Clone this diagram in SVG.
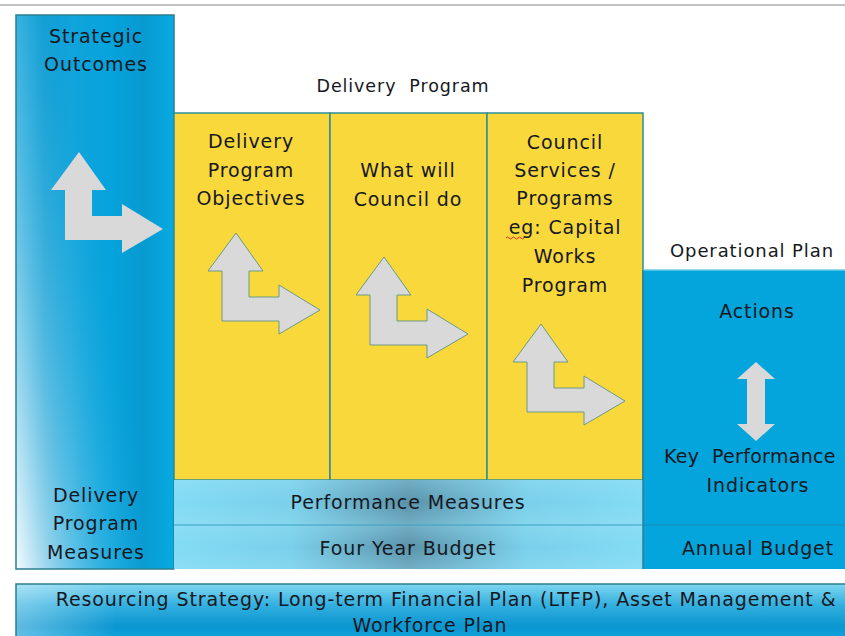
<svg xmlns="http://www.w3.org/2000/svg" width="845" height="636" viewBox="0 0 845 636">
<defs>
  <linearGradient id="leftStripes" x1="0" y1="0" x2="1" y2="0">
    <stop offset="0" stop-color="#1ea8dc"/>
    <stop offset="0.18" stop-color="#0c9bd2"/>
    <stop offset="0.35" stop-color="#10a4db"/>
    <stop offset="0.6" stop-color="#06a3dc"/>
    <stop offset="0.8" stop-color="#079ad0"/>
    <stop offset="1" stop-color="#08aae3"/>
  </linearGradient>
  <linearGradient id="leftFade" x1="0" y1="1" x2="0.7" y2="0.6">
    <stop offset="0" stop-color="#ffffff" stop-opacity="0.95"/>
    <stop offset="0.4" stop-color="#bfe6f4" stop-opacity="0.45"/>
    <stop offset="1" stop-color="#0aa2da" stop-opacity="0"/>
  </linearGradient>
  <linearGradient id="band" x1="0" y1="0" x2="1" y2="0">
    <stop offset="0" stop-color="#82dbf4"/>
    <stop offset="0.25" stop-color="#7acfea"/>
    <stop offset="0.5" stop-color="#5a92a9"/>
    <stop offset="0.75" stop-color="#7acfea"/>
    <stop offset="1" stop-color="#82dbf4"/>
  </linearGradient>
  <linearGradient id="bandV" x1="0" y1="0" x2="0" y2="1">
    <stop offset="0" stop-color="#9be3f6" stop-opacity="0.35"/>
    <stop offset="0.5" stop-color="#9be3f6" stop-opacity="0"/>
    <stop offset="1" stop-color="#9be3f6" stop-opacity="0.35"/>
  </linearGradient>
  <linearGradient id="bottomBar" x1="0" y1="0" x2="0" y2="1">
    <stop offset="0" stop-color="#7fd5f0"/>
    <stop offset="0.35" stop-color="#33b0e0"/>
    <stop offset="0.7" stop-color="#0b96d0"/>
    <stop offset="1" stop-color="#11a8e2"/>
  </linearGradient>
  <linearGradient id="bottomLeft" x1="0" y1="0" x2="1" y2="0">
    <stop offset="0" stop-color="#ffffff" stop-opacity="0.35"/>
    <stop offset="0.12" stop-color="#ffffff" stop-opacity="0"/>
    <stop offset="1" stop-color="#ffffff" stop-opacity="0"/>
  </linearGradient>
  <path id="bentArrow" d="M79,152 L106,190 L92,190 L92,216 L122,216 L122,204 L163,229 L122,253 L122,240 L65,240 L65,190 L51,190 Z"/>
</defs>
<style>
  .t { font-family: "DejaVu Sans", "Liberation Sans", sans-serif; fill: #15181e; text-anchor: middle; letter-spacing: 0.9px; white-space: pre; }
  .big { font-size: 19px; }
  .mid { font-size: 18px; }
  .sm { font-size: 17.5px; }
  .yellow { fill: #f9d83c; stroke: #2e8f98; stroke-width: 1.5; }
  .edge { stroke: #2a7f8f; stroke-width: 1.5; fill: none; }
  .arrowY { fill: #d9d9d9; stroke: #6a9a8a; stroke-width: 1; }
  .arrowB { fill: #d9d9d9; stroke: none; }
</style>

<rect width="845" height="636" fill="#ffffff"/>
<line x1="0" y1="5" x2="845" y2="5" stroke="#b0b0b0" stroke-width="1.5"/>

<g id="strategic-outcomes">
  <rect x="16" y="15" width="158" height="554" fill="url(#leftStripes)"/>
  <rect x="16" y="15" width="158" height="554" fill="url(#leftFade)"/>
  <rect x="16" y="15" width="158" height="554" class="edge"/>
  <text class="t big" x="96" y="43">Strategic</text>
  <text class="t big" x="96" y="71">Outcomes</text>
  <use href="#bentArrow" class="arrowB"/>
  <text class="t big" x="96" y="502">Delivery</text>
  <text class="t big" x="96" y="530">Program</text>
  <text class="t big" x="96" y="559">Measures</text>
</g>

<g id="delivery-program">
  <text class="t sm" x="403" y="92">Delivery  Program</text>
</g>

<g id="dp-objectives">
  <rect x="174" y="113" width="156" height="367" class="yellow"/>
  <text class="t big" x="251" y="148">Delivery</text>
  <text class="t big" x="251" y="177">Program</text>
  <text class="t big" x="251" y="205">Objectives</text>
  <use href="#bentArrow" transform="translate(157,81)" class="arrowY"/>
</g>

<g id="what-will-council-do">
  <rect x="330" y="113" width="157" height="367" class="yellow"/>
  <text class="t big" x="408" y="177">What will</text>
  <text class="t big" x="408" y="206">Council do</text>
  <use href="#bentArrow" transform="translate(305,105)" class="arrowY"/>
</g>

<g id="council-services">
  <rect x="487" y="113" width="156" height="367" class="yellow"/>
  <text class="t big" x="565" y="149">Council</text>
  <text class="t big" x="565" y="177">Services /</text>
  <text class="t big" x="565" y="205">Programs</text>
  <text class="t big" x="565" y="234">eg: Capital</text>
  <text class="t big" x="565" y="263">Works</text>
  <text class="t big" x="565" y="292">Program</text>
  <path d="M506,238 q1.5,-2 3,0 t3,0 t3,0 t3,0 t3,0 t3,0" fill="none" stroke="#e03030" stroke-width="1"/>
  <use href="#bentArrow" transform="translate(462,172)" class="arrowY"/>
</g>

<g id="measures-budget-bands">
  <rect x="174" y="480" width="469" height="45" fill="url(#band)"/>
  <rect x="174" y="480" width="469" height="45" fill="url(#bandV)"/>
  <rect x="174" y="525" width="469" height="44" fill="url(#band)"/>
  <rect x="174" y="525" width="469" height="44" fill="url(#bandV)"/>
  <line x1="174" y1="525" x2="643" y2="525" stroke="#3d9fbf" stroke-width="1"/>
</g>

<g id="performance-measures">
  <text class="t big" x="408" y="509">Performance Measures</text>
</g>

<g id="four-year-budget">
  <text class="t big" x="408" y="555">Four Year Budget</text>
</g>

<g id="operational-plan">
  <text class="t mid" x="752" y="257">Operational Plan</text>
  <rect x="643" y="270" width="210" height="299" fill="#03a5dc"/>
  <line x1="643" y1="270" x2="845" y2="270" stroke="#6fcbea" stroke-width="1.5"/>
  <line x1="643" y1="270" x2="643" y2="569" stroke="#2a7f8f" stroke-width="1.5"/>
  <line x1="643" y1="525" x2="845" y2="525" stroke="#1a86b8" stroke-width="1"/>
  <text class="t big" x="757" y="318">Actions</text>
  <path d="M756,362 L775,379 L765,379 L765,424 L775,424 L756,441 L737,424 L747,424 L747,379 L737,379 Z" class="arrowB"/>
  <text class="t big" x="664" y="463" style="text-anchor:start;letter-spacing:0.3px">Key  Performance</text>
  <text class="t big" x="758" y="492">Indicators</text>
  <text class="t big" x="758" y="555">Annual Budget</text>
</g>

<g id="resourcing-strategy">
  <rect x="16" y="584" width="840" height="60" fill="url(#bottomBar)"/>
  <rect x="16" y="584" width="840" height="60" fill="url(#bottomLeft)"/>
  <rect x="16" y="584" width="840" height="60" class="edge"/>
  <text class="t big" x="446" y="606">Resourcing Strategy: Long-term Financial Plan (LTFP), Asset Management &amp;</text>
  <text class="t big" x="430" y="632">Workforce Plan</text>
</g>

<g id="connectors"></g>
</svg>
